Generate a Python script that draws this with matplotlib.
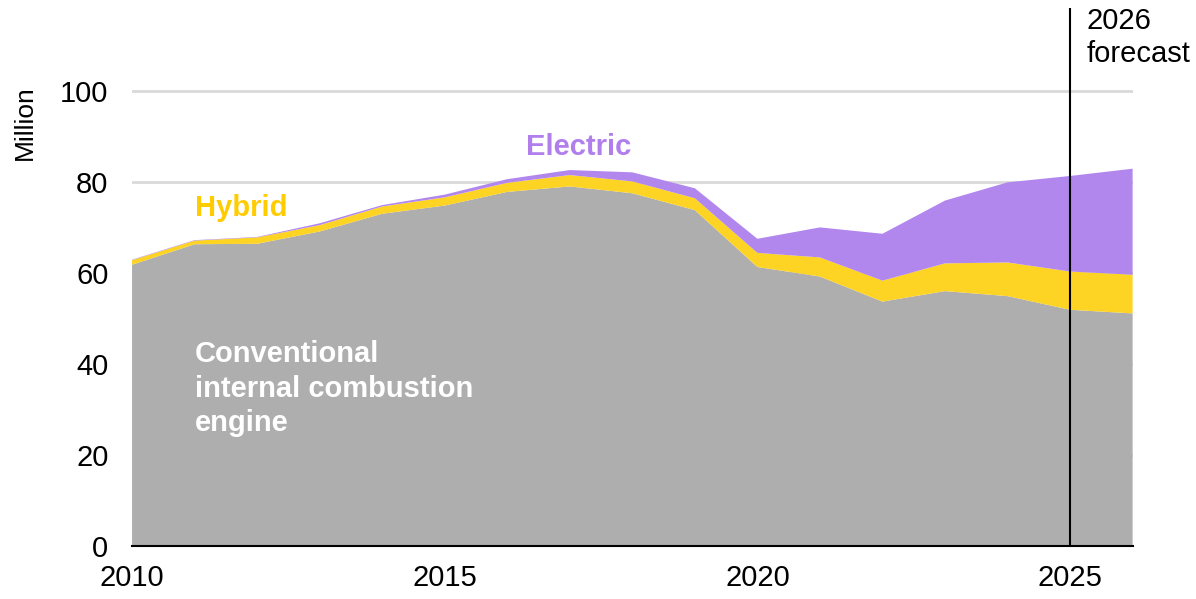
import matplotlib
matplotlib.use('Agg')
import matplotlib.pyplot as plt
import numpy as np

plt.rcParams['font.family'] = ['Liberation Sans', 'DejaVu Sans']

# data (million vehicles)
years = [2010, 2011, 2012, 2013, 2014, 2015, 2016, 2017, 2018,
         2019, 2020, 2021, 2022, 2023, 2024, 2025, 2026]
conventional = [61.8, 66.3, 66.4, 69.1, 73.0, 74.8, 77.8, 79.0, 77.5,
                73.8, 61.3, 59.2, 53.7, 56.0, 54.9, 51.9, 51.1]
hybrid_total = [62.8, 67.1, 67.8, 70.5, 74.6, 76.6, 79.8, 81.5, 80.1,
                76.4, 64.4, 63.4, 58.3, 62.1, 62.3, 60.3, 59.6]
electric_total = [62.9, 67.2, 67.9, 70.9, 74.9, 77.2, 80.6, 82.6, 82.1,
                  78.6, 67.5, 70.0, 68.6, 75.9, 79.9, 81.3, 82.9]

hybrid = np.array(hybrid_total) - np.array(conventional)
electric = np.array(electric_total) - np.array(hybrid_total)

yticks = [0, 20, 40, 60, 80, 100]
xticks = [2010, 2015, 2020, 2025]

gray = '#AEAEAE'
yellow = '#FDD324'
purple = '#B187EE'

fig = plt.figure(figsize=(11.96, 5.99), dpi=100)
ax = fig.add_axes([0.1104, 0.0885, 0.8366, 0.8981])

ax.stackplot(years, conventional, hybrid, electric,
             colors=[gray, yellow, purple], linewidth=0, zorder=2)

ax.set_xlim(2010, 2026)
ax.set_ylim(0, 118.2)
ax.set_yticks(yticks)
ax.set_xticks(xticks)
ax.yaxis.grid(True, color='#D9D9D9', linewidth=2, zorder=0)
ax.set_axisbelow(True)
ax.tick_params(axis='both', length=0, labelsize=21)
ax.tick_params(axis='y', pad=17)
ax.tick_params(axis='x', pad=13)

for s in ['top', 'right', 'left']:
    ax.spines[s].set_visible(False)
ax.spines['bottom'].set_linewidth(1.5)
ax.spines['bottom'].set_zorder(5)

ax.axvline(2025, color='black', linewidth=1.5, zorder=6)

ax.text(0.021, 0.795, 'Million', transform=fig.transFigure, rotation=90,
        fontsize=19, ha='center', va='center')

ax.text(2011.0, 74.3, 'Hybrid', color='#FFCC00', fontsize=21,
        fontweight='bold', ha='left', va='center')
ax.text(2016.3, 87.7, 'Electric', color='#B07FEC', fontsize=21,
        fontweight='bold', ha='left', va='center')
ax.text(2011.0, 34.6, 'Conventional\ninternal combustion\nengine',
        color='white', fontsize=21, fontweight='bold', ha='left',
        va='center', linespacing=1.3)
ax.text(2025.27, 118.4, '2026\nforecast', fontsize=21, ha='left',
        va='top', linespacing=1.2)

fig.savefig('out.png', dpi=100)
